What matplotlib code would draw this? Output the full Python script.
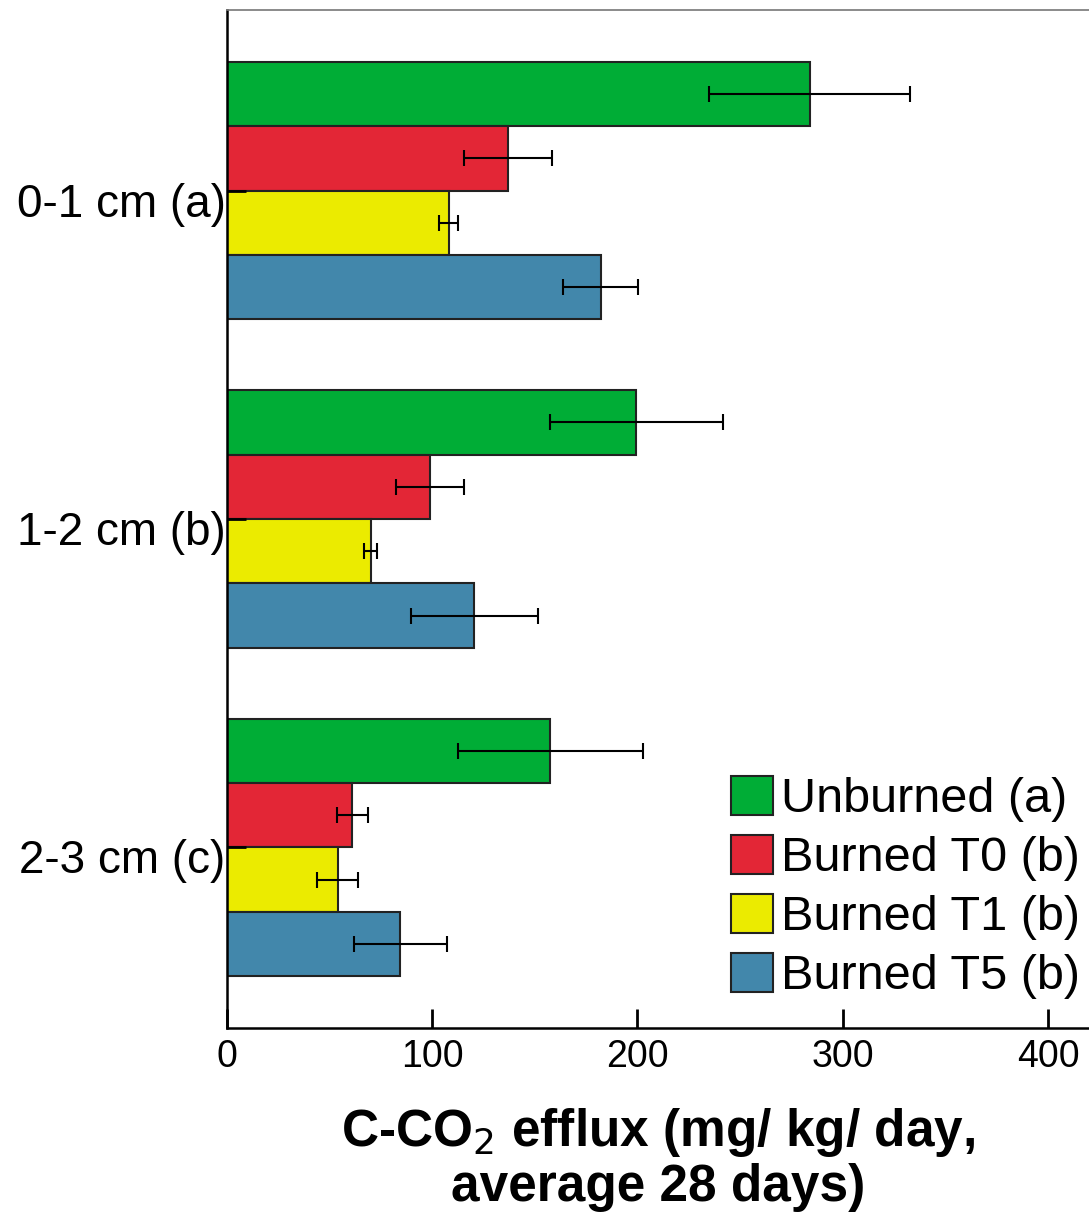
import numpy as np
import matplotlib.pyplot as plt
import matplotlib.transforms as mtransforms

plt.rcParams['font.family'] = ['Liberation Sans', 'DejaVu Sans']

depths = ['0-1 cm (a)', '1-2 cm (b)', '2-3 cm (c)']
series = ['Unburned (a)', 'Burned T0 (b)', 'Burned T1 (b)', 'Burned T5 (b)']
colors = ['#00ad36', '#e32636', '#ebeb00', '#4287ab']

unburned = [284, 199.5, 157.5]
burned_t0 = [137, 99, 61]
burned_t1 = [108, 70, 54]
burned_t5 = [182, 120.5, 84.5]

err_unburned = [49, 42, 45]
err_t0 = [21.5, 16.5, 7.5]
err_t1 = [4.5, 3, 10]
err_t5 = [18.5, 31, 22.5]

values = [unburned, burned_t0, burned_t1, burned_t5]
errors = [err_unburned, err_t0, err_t1, err_t5]

fig = plt.figure(figsize=(10.89, 12.18), dpi=100)
ax = fig.add_axes([0.2084, 0.156, 0.7916, 0.8358])

y = np.arange(len(depths))
h = 0.196
for i, (vals, errs) in enumerate(zip(values, errors)):
    pos = y - 1.5 * h + i * h
    ax.barh(pos, vals, height=h, color=colors[i], edgecolor='#222222',
            linewidth=1.5, label=series[i])
    ax.errorbar(vals, pos, xerr=errs, fmt='none', ecolor='black',
                elinewidth=1.5, capsize=6, capthick=1.5)

ax.set_xlim(0, 420)
ax.set_ylim(2.55, -0.55)
ax.set_yticks(y)
ax.set_yticklabels(depths, fontsize=33)
ax.set_xticks([0, 100, 200, 300, 400])
ax.tick_params(axis='x', direction='in', length=14, width=2, labelsize=27, pad=8)
ax.tick_params(axis='y', direction='in', length=14, width=2, pad=1)

# labels sit a little below the tick marks in the original
shift = mtransforms.ScaledTranslation(0, -0.09, fig.dpi_scale_trans)
for t in ax.yaxis.get_major_ticks():
    t.label1.set_transform(t.label1.get_transform() + shift)

for s in ['left', 'bottom']:
    ax.spines[s].set_linewidth(1.8)
ax.spines['top'].set_color('#777777')
ax.spines['top'].set_linewidth(1.2)
ax.spines['right'].set_visible(False)

ax.set_xlabel('C-CO$_2$ efflux (mg/ kg/ day,\naverage 28 days)',
              fontsize=37, fontweight='bold', labelpad=22, linespacing=1.12)

ax.legend(loc='lower right', bbox_to_anchor=(0.99, 0.028), frameon=False,
          fontsize=35, handlelength=0.86, handleheight=0.86, handletextpad=0.18,
          labelspacing=0.26, borderaxespad=0, borderpad=0)

fig.savefig('out.png', dpi=100)
